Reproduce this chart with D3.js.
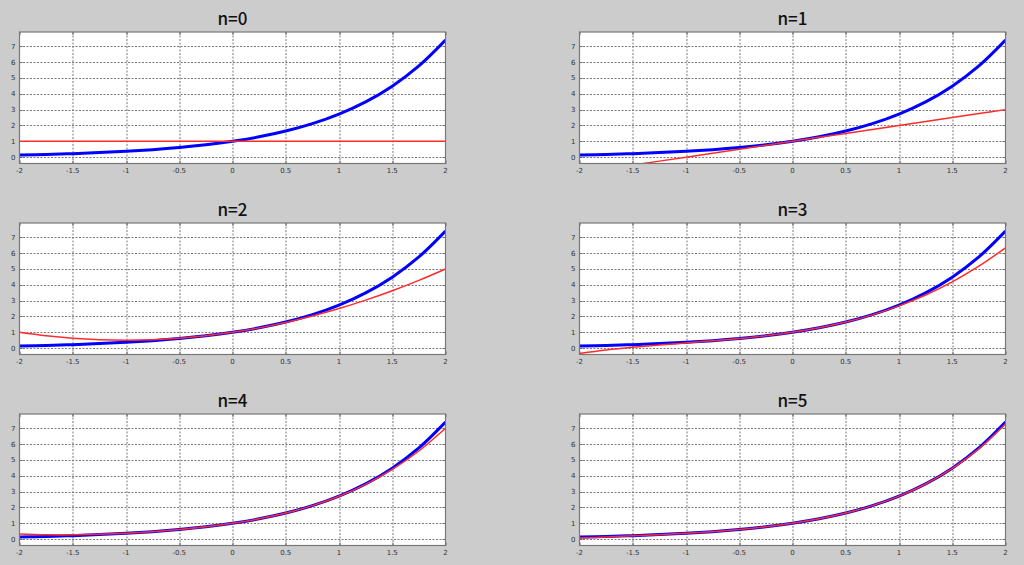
<!DOCTYPE html>
<html><head><meta charset="utf-8">
<script src="https://cdn.jsdelivr.net/npm/d3@7"></script>
<style>
html,body{margin:0;padding:0;background:#cccccc;}
svg{display:block;}
</style></head>
<body>
<svg id="c" width="1024" height="565"></svg>
<script>
// Sample x positions
const xs = [-2, -1.75, -1.5, -1.25, -1, -0.75, -0.5, -0.25, 0, 0.25, 0.5, 0.75, 1, 1.25, 1.5, 1.75, 2];
// exp(x) (blue)
const expVals = [0.135, 0.174, 0.223, 0.287, 0.368, 0.472, 0.607, 0.779, 1, 1.284, 1.649, 2.117, 2.718, 3.490, 4.482, 5.755, 7.389];
// Taylor approximations (red)
const taylor0 = [1, 1, 1, 1, 1, 1, 1, 1, 1, 1, 1, 1, 1, 1, 1, 1, 1];
const taylor1 = [-1, -0.75, -0.5, -0.25, 0, 0.25, 0.5, 0.75, 1, 1.25, 1.5, 1.75, 2, 2.25, 2.5, 2.75, 3];
const taylor2 = [1, 0.781, 0.625, 0.531, 0.5, 0.531, 0.625, 0.781, 1, 1.281, 1.625, 2.031, 2.5, 3.031, 3.625, 4.281, 5];
const taylor3 = [-0.333, -0.112, 0.0625, 0.206, 0.333, 0.461, 0.604, 0.779, 1, 1.284, 1.646, 2.102, 2.667, 3.357, 4.188, 5.174, 6.333];
const taylor4 = [0.333, 0.279, 0.273, 0.307, 0.375, 0.474, 0.607, 0.779, 1, 1.284, 1.648, 2.115, 2.708, 3.459, 4.398, 5.565, 7.0];
const taylor5 = [0.0667, 0.142, 0.210, 0.282, 0.367, 0.472, 0.607, 0.779, 1, 1.284, 1.649, 2.117, 2.717, 3.484, 4.462, 5.702, 7.267];
const titles = ["n=0", "n=1", "n=2", "n=3", "n=4", "n=5"];
const approx = [taylor0, taylor1, taylor2, taylor3, taylor4, taylor5];
const xTicks = [-2, -1.5, -1, -0.5, 0, 0.5, 1, 1.5, 2];
const yTicks = [0, 1, 2, 3, 4, 5, 6, 7];
const xDomain = [-2, 2];
const yDomain = [-0.4, 7.9];

const svg = d3.select("#c");
const panelW = 426, panelH = 131.5;
const lefts = [19.5, 579.5];
const tops = [32, 223, 414];

titles.forEach((t, i) => {
  const col = i % 2, row = Math.floor(i / 2);
  const g = svg.append("g").attr("transform", `translate(${lefts[col]},${tops[row]})`);
  const x = d3.scaleLinear().domain(xDomain).range([0, panelW]);
  const y = d3.scaleLinear().domain(yDomain).range([panelH, 0]);

  g.append("rect").attr("width", panelW).attr("height", panelH).attr("fill", "#fff");

  const clipId = "clip" + i;
  g.append("clipPath").attr("id", clipId).append("rect").attr("width", panelW).attr("height", panelH);

  // grid
  g.append("g").selectAll("line").data(xTicks.slice(1, -1)).join("line")
    .attr("x1", d => Math.round(x(d)) + 0.5).attr("x2", d => Math.round(x(d)) + 0.5)
    .attr("y1", 0).attr("y2", panelH)
    .attr("stroke", "#7a7a7a").attr("stroke-width", 1).attr("stroke-dasharray", "2,1.5");
  g.append("g").selectAll("line").data(yTicks).join("line")
    .attr("y1", d => Math.round(y(d)) + 0.5).attr("y2", d => Math.round(y(d)) + 0.5)
    .attr("x1", 0).attr("x2", panelW)
    .attr("stroke", "#7a7a7a").attr("stroke-width", 1).attr("stroke-dasharray", "2,1.5");

  // tick marks (inside, all four sides)
  const tk = 3;
  const tg = g.append("g").attr("stroke", "#666").attr("stroke-width", 1);
  xTicks.forEach(d => {
    const px = Math.round(x(d)) + 0.5;
    tg.append("line").attr("x1", px).attr("x2", px).attr("y1", panelH).attr("y2", panelH - tk);
    tg.append("line").attr("x1", px).attr("x2", px).attr("y1", 0).attr("y2", tk);
  });
  yTicks.forEach(d => {
    const py = Math.round(y(d)) + 0.5;
    tg.append("line").attr("y1", py).attr("y2", py).attr("x1", 0).attr("x2", tk);
    tg.append("line").attr("y1", py).attr("y2", py).attr("x1", panelW).attr("x2", panelW - tk);
  });

  // curves
  const line = (vals) => d3.line().x((d, k) => x(xs[k])).y(d => y(d)).curve(d3.curveCatmullRom)(vals);
  const cg = g.append("g").attr("clip-path", `url(#${clipId})`);
  cg.append("path").attr("d", line(expVals)).attr("fill", "none").attr("stroke", "#0000ff").attr("stroke-width", 3);
  cg.append("path").attr("d", line(approx[i])).attr("fill", "none").attr("stroke", "#ff2a2a").attr("stroke-width", 1.5);

  // box
  g.append("rect").attr("x", 0).attr("y", 0).attr("width", panelW).attr("height", panelH)
    .attr("fill", "none").attr("stroke", "#777").attr("stroke-width", 1.2);

  // tick labels
  g.append("g").selectAll("text").data(xTicks).join("text")
    .attr("x", d => x(d)).attr("y", panelH + 9)
    .attr("text-anchor", "middle").attr("font-family", "DejaVu Sans, sans-serif")
    .attr("font-size", 7).attr("fill", "#333").text(d => d);
  g.append("g").selectAll("text").data(yTicks).join("text")
    .attr("x", -4).attr("y", d => y(d) + 2.5)
    .attr("text-anchor", "end").attr("font-family", "DejaVu Sans, sans-serif")
    .attr("font-size", 7).attr("fill", "#333").text(d => d);

  // title
  g.append("text").attr("x", panelW / 2).attr("y", -7)
    .attr("text-anchor", "middle").attr("font-family", "Noto Sans CJK JP, Noto Sans, sans-serif")
    .attr("font-weight", 500).attr("font-size", 17).attr("fill", "#111").text(t);
});
</script>
</body></html>
